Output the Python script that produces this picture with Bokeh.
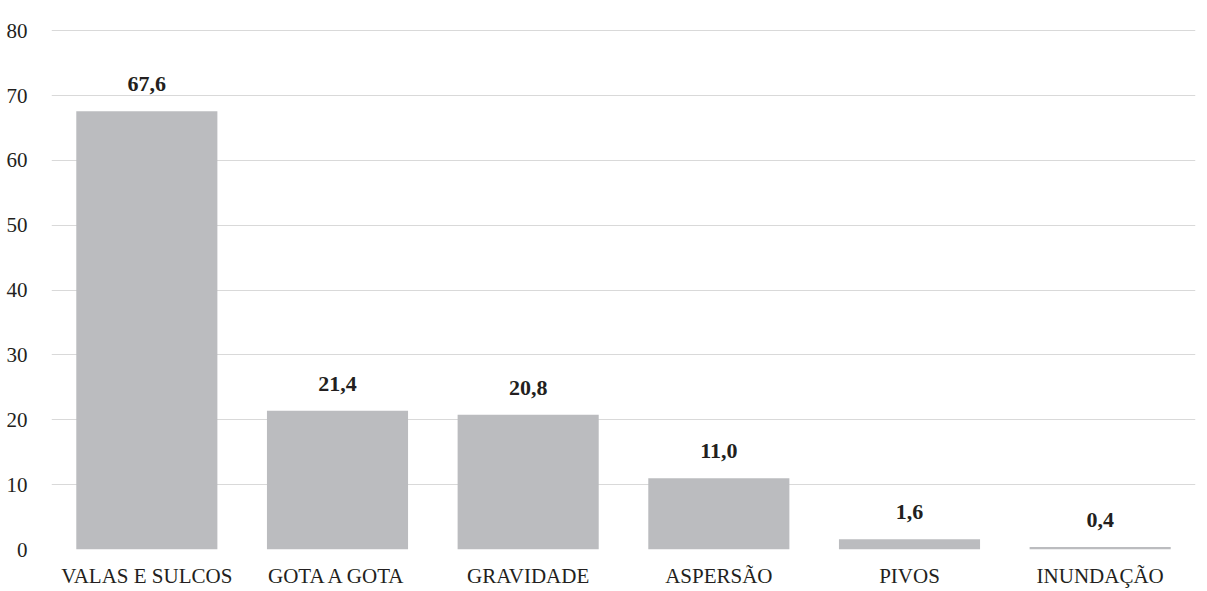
from bokeh.plotting import figure
from bokeh.models import ColumnDataSource, FactorRange, Range1d, SingleIntervalTicker
from bokeh.core.properties import value
from bokeh.embed import file_html
from bokeh.resources import INLINE

categories = ["VALAS E SULCOS", "GOTA A GOTA", "GRAVIDADE", "ASPERSÃO", "PIVOS", "INUNDAÇÃO"]
values = [67.6, 21.4, 20.8, 11.0, 1.6, 0.4]
labels = [f"{v:.1f}".replace(".", ",") for v in values]

src = ColumnDataSource(dict(cat=categories, val=values, lab=labels))

p = figure(x_range=FactorRange(*categories), y_range=Range1d(0, 80.2),
           width=1199, height=591, output_backend="svg", toolbar_location=None,
           min_border_left=51, min_border_right=4, min_border_top=29, min_border_bottom=42)
p.outline_line_color = None
p.background_fill_color = "white"

p.vbar(x="cat", top="val", width=0.74, source=src, fill_color="#BBBCBF", line_color=None)
p.text(x="cat", y="val", text="lab", source=src, text_align="center", text_baseline="bottom",
       y_offset=-20, text_font=value("Liberation Serif"), text_font_style="bold",
       text_font_size="22px", text_color="#231F20")

p.yaxis.ticker = SingleIntervalTicker(interval=10)
p.ygrid.ticker = SingleIntervalTicker(interval=10)
p.ygrid.grid_line_color = "#D9D9D9"
p.ygrid.grid_line_width = 1
p.xgrid.grid_line_color = None

for ax in (p.xaxis[0], p.yaxis[0]):
    ax.axis_line_color = None
    ax.major_tick_line_color = None
    ax.minor_tick_line_color = None
    ax.major_label_text_font = "Liberation Serif"
    ax.major_label_text_color = "#231F20"

p.yaxis.major_label_text_font_size = "21px"
p.yaxis.major_label_standoff = 18
p.xaxis.major_label_text_font_size = "21px"
p.xaxis.major_label_standoff = 8

open("out.html", "w").write(file_html(p, INLINE))
